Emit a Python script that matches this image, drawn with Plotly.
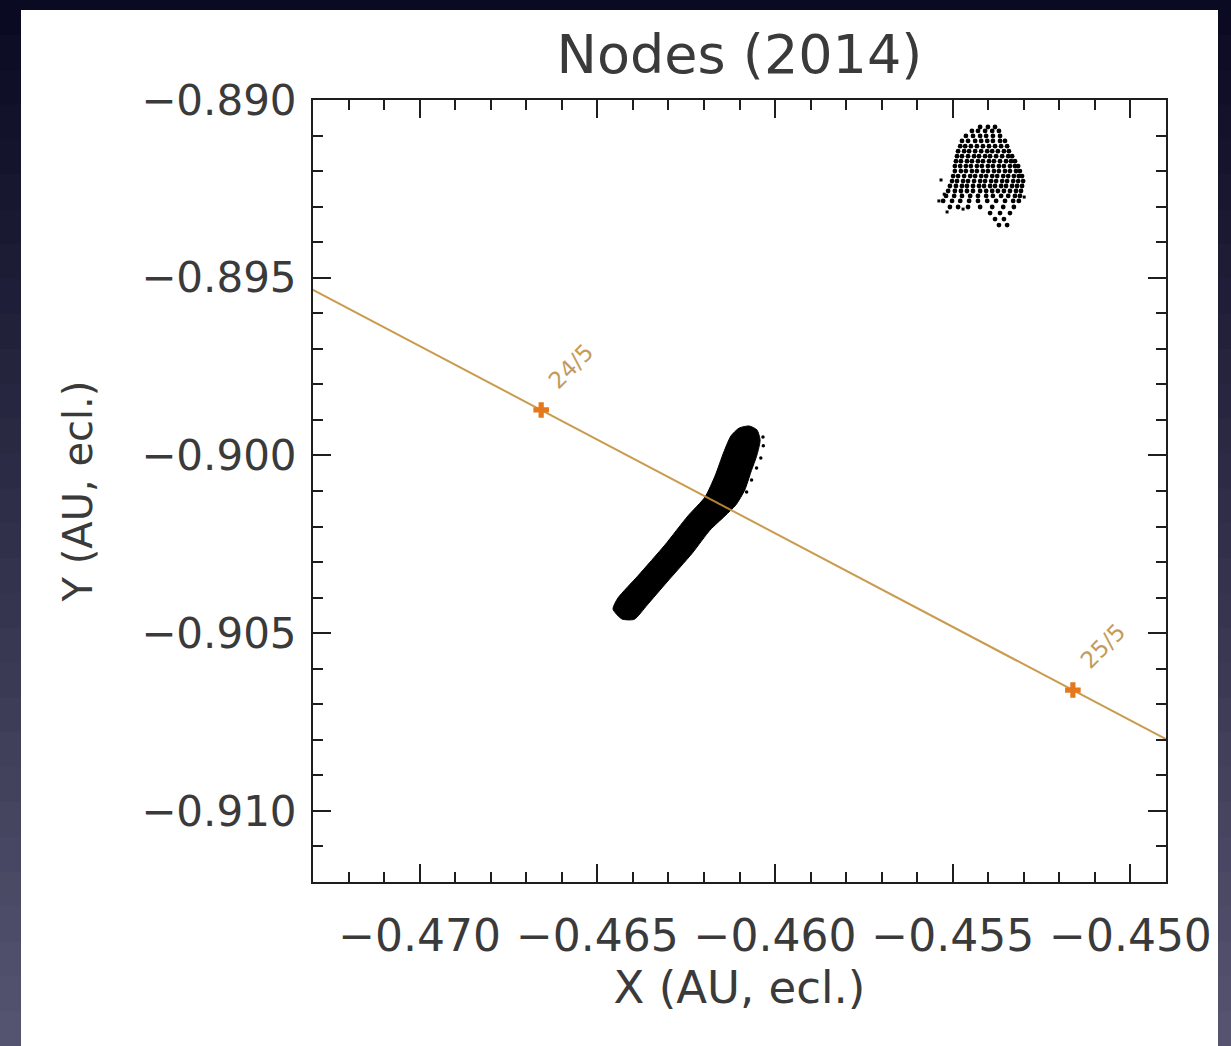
import plotly.graph_objects as go

# ---------------------------------------------------------------------------
# Data (ecliptic X / Y in AU)
# ---------------------------------------------------------------------------
# Earth's track across the frame, with the two dated positions on it
orbit_x = [-0.4745, -0.46658, -0.45162, -0.4480]
orbit_y = [-0.89455, -0.89872, -0.90660, -0.90851]

date_labels = ["24/5", "25/5"]
date_x = [-0.46658, -0.45162]
date_y = [-0.89872, -0.90660]

# Outline of the dense stream of ascending nodes
stream_x = [-0.46431, -0.46456, -0.46442, -0.46386, -0.46310, -0.46245,
            -0.46197, -0.46169, -0.46144, -0.46124, -0.46101, -0.46073,
            -0.46051, -0.46042, -0.46051, -0.46068, -0.46085, -0.46110,
            -0.46141, -0.46183, -0.46233, -0.46304, -0.46360, -0.46396]
stream_y = [-0.90460, -0.90432, -0.90401, -0.90339, -0.90252, -0.90170,
            -0.90117, -0.90058, -0.89990, -0.89945, -0.89923, -0.89917,
            -0.89928, -0.89957, -0.89999, -0.90047, -0.90097, -0.90139,
            -0.90170, -0.90210, -0.90275, -0.90356, -0.90421, -0.90461]
# loose nodes along the ragged right edge of the stream
stream_edge_x = [-0.46034, -0.46033, -0.46040, -0.46052, -0.46066, -0.46080]
stream_edge_y = [-0.89948, -0.89973, -0.90007, -0.90035, -0.90069, -0.90103]

# Cloud of nodes in the upper right, stored row by row
cluster_rows_y = [-0.89076, -0.89087, -0.89101, -0.89115, -0.89130, -0.89144,
                  -0.89158, -0.89172, -0.89186, -0.89200, -0.89214, -0.89228,
                  -0.89242, -0.89256, -0.89270, -0.89284, -0.89301, -0.89318,
                  -0.89335, -0.89352]
cluster_rows_x = [
    [-0.45423, -0.45401, -0.45381],
    [-0.45446, -0.45429, -0.45409, -0.45389, -0.45370],
    [-0.45463, -0.45443, -0.45423, -0.45406, -0.45387, -0.45367],
    [-0.45474, -0.45457, -0.45437, -0.45420, -0.45403, -0.45387, -0.45367, -0.45353],
    [-0.45479, -0.45465, -0.45449, -0.45432, -0.45415, -0.45398, -0.45381, -0.45364, -0.45347],
    [-0.45485, -0.45468, -0.45454, -0.45437, -0.45420, -0.45403, -0.45389, -0.45373, -0.45356, -0.45342],
    [-0.45488, -0.45474, -0.45457, -0.45440, -0.45426, -0.45409, -0.45395, -0.45378, -0.45361, -0.45344, -0.45333],
    [-0.45491, -0.45477, -0.45460, -0.45446, -0.45429, -0.45415, -0.45398, -0.45384, -0.45367, -0.45350, -0.45336, -0.45325],
    [-0.45494, -0.45479, -0.45463, -0.45449, -0.45432, -0.45418, -0.45401, -0.45387, -0.45370, -0.45356, -0.45339, -0.45325, -0.45316],
    [-0.45494, -0.45477, -0.45463, -0.45446, -0.45432, -0.45415, -0.45401, -0.45384, -0.45370, -0.45353, -0.45339, -0.45322, -0.45311],
    [-0.45499, -0.45485, -0.45468, -0.45451, -0.45437, -0.45420, -0.45406, -0.45389, -0.45375, -0.45358, -0.45344, -0.45328, -0.45314, -0.45305],
    [-0.45502, -0.45488, -0.45471, -0.45457, -0.45440, -0.45423, -0.45409, -0.45392, -0.45378, -0.45361, -0.45347, -0.45330, -0.45316, -0.45302],
    [-0.45508, -0.45491, -0.45474, -0.45460, -0.45443, -0.45426, -0.45412, -0.45395, -0.45381, -0.45364, -0.45350, -0.45333, -0.45319, -0.45305],
    [-0.45513, -0.45494, -0.45477, -0.45460, -0.45443, -0.45423, -0.45406, -0.45389, -0.45373, -0.45356, -0.45339, -0.45322, -0.45308],
    [-0.45519, -0.45496, -0.45474, -0.45451, -0.45429, -0.45406, -0.45387, -0.45364, -0.45344, -0.45325, -0.45311],
    [-0.45527, -0.45502, -0.45479, -0.45454, -0.45429, -0.45403, -0.45378, -0.45353, -0.45330, -0.45314],
    [-0.45508, -0.45485, -0.45457, -0.45423, -0.45389, -0.45358, -0.45328],
    [-0.45395, -0.45367, -0.45339],
    [-0.45381, -0.45356],
    [-0.45370, -0.45347],
]
# a few isolated nodes around the cloud
stray_x = [-0.45533, -0.45524, -0.45539, -0.45516, -0.45471, -0.45299]
stray_y = [-0.89225, -0.89265, -0.89284, -0.89315, -0.89307, -0.89273]

x_range = [-0.473, -0.449]
y_range = [-0.912, -0.890]

# ---------------------------------------------------------------------------
cloud_x, cloud_y = [], []
for yv, row in zip(cluster_rows_y, cluster_rows_x):
    cloud_x.extend(row)
    cloud_y.extend([yv] * len(row))

TEXT = "#3a3a3a"
AXIS = "#1e1e1e"

fig = go.Figure()

fig.add_trace(go.Scatter(
    x=stream_x + stream_x[:1], y=stream_y + stream_y[:1],
    mode="lines", fill="toself", fillcolor="black",
    line=dict(color="black", width=1, shape="spline", smoothing=0.6),
    hoverinfo="skip", showlegend=False))

fig.add_trace(go.Scatter(
    x=stream_edge_x, y=stream_edge_y, mode="markers",
    marker=dict(symbol="circle", size=3.5, color="black", line=dict(width=0)),
    showlegend=False))

fig.add_trace(go.Scatter(
    x=cloud_x, y=cloud_y, mode="markers",
    marker=dict(symbol="circle", size=4.8, color="black", line=dict(width=0)),
    showlegend=False))

fig.add_trace(go.Scatter(
    x=stray_x, y=stray_y, mode="markers",
    marker=dict(symbol="square", size=3, color="black", line=dict(width=0)),
    showlegend=False))

fig.add_trace(go.Scatter(
    x=orbit_x, y=orbit_y, mode="lines",
    line=dict(color="#c4913c", width=2), opacity=0.9,
    showlegend=False))

fig.add_trace(go.Scatter(
    x=date_x, y=date_y, mode="markers",
    marker=dict(symbol="cross", size=13, color="#e6781c", line=dict(width=0)),
    showlegend=False))

for lab, xv, yv in zip(date_labels, date_x, date_y):
    fig.add_annotation(x=xv, y=yv, text=lab, showarrow=False,
                       textangle=-45, xshift=30, yshift=44,
                       font=dict(family="DejaVu Sans", size=23, color="#c39c5a"))

# dark slide backdrop with a soft vertical gradient, and the white sheet
FIG_W, FIG_H = 1231, 1046
ML, MR, MT, MB = 313, 65, 100, 164
PW, PH = FIG_W - ML - MR, FIG_H - MT - MB


def px_to_paper(px, py):
    return (px - ML) / PW, (FIG_H - MB - py) / PH


shapes = []
n_bands = 30
top_c = (10, 10, 34)
bot_c = (84, 84, 112)
for i in range(n_bands):
    t = i / (n_bands - 1)
    c = tuple(int(round(a + (b - a) * t)) for a, b in zip(top_c, bot_c))
    x0, y0 = px_to_paper(0, FIG_H * i / n_bands)
    x1, y1 = px_to_paper(FIG_W, FIG_H * (i + 1) / n_bands + 1)
    shapes.append(dict(type="rect", xref="paper", yref="paper", layer="below",
                       x0=x0, x1=x1, y0=y1, y1=y0, line=dict(width=0),
                       fillcolor=f"rgb{c}"))
sx0, sy0 = px_to_paper(21, 10)
sx1, sy1 = px_to_paper(1218, FIG_H + 2)
shapes.append(dict(type="rect", xref="paper", yref="paper", layer="below",
                   x0=sx0, x1=sx1, y0=sy1, y1=sy0, line=dict(width=0),
                   fillcolor="white"))

axis_common = dict(
    showgrid=False, zeroline=False, showline=True, linecolor=AXIS, linewidth=2,
    mirror="allticks", ticks="inside", ticklen=18, tickwidth=2, tickcolor=AXIS,
    tickformat=".3f",
)

fig.update_layout(
    width=FIG_W, height=FIG_H, autosize=False,
    margin=dict(l=ML, r=MR, t=MT, b=MB),
    paper_bgcolor="rgb(40,40,70)", plot_bgcolor="white",
    shapes=shapes,
    title=dict(text="Nodes (2014)", x=(739.5) / FIG_W, xanchor="center",
               y=1 - 54 / FIG_H, yanchor="middle",
               font=dict(family="DejaVu Sans", size=54, color=TEXT)),
    xaxis=dict(range=x_range, tick0=-0.470, dtick=0.005,
               minor=dict(dtick=0.001, ticks="inside", ticklen=10,
                          tickwidth=1.5, tickcolor=AXIS),
               tickfont=dict(family="DejaVu Sans", size=44, color=TEXT),
               ticklabelstandoff=14,
               title=dict(text="X (AU, ecl.)", standoff=12,
                          font=dict(family="DejaVu Sans", size=45, color=TEXT)),
               **axis_common),
    yaxis=dict(range=y_range, tick0=-0.890, dtick=0.005,
               minor=dict(dtick=0.001, ticks="inside", ticklen=10,
                          tickwidth=1.5, tickcolor=AXIS),
               tickfont=dict(family="DejaVu Sans", size=42, color=TEXT),
               ticklabelstandoff=6,
               title=dict(text="Y (AU, ecl.)", standoff=36,
                          font=dict(family="DejaVu Sans", size=40, color=TEXT)),
               **axis_common),
)

fig.write_html("out.html")
